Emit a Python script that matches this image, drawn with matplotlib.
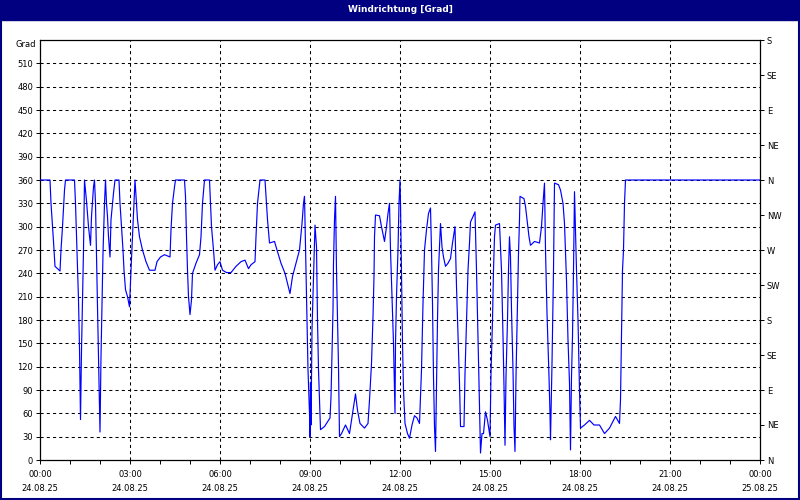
import numpy as np
import matplotlib
matplotlib.use("Agg")
import matplotlib.pyplot as plt
from matplotlib.patches import Rectangle
from matplotlib.ticker import MultipleLocator, FixedLocator
import matplotlib.transforms as mtrans

# minutes after 24.08.25 00:00 and wind direction in degrees
minutes = [0, 20, 22, 27, 30, 40, 42, 45, 49, 51, 69, 71, 74, 77, 79, 81, 83, 85, 87, 89,
           93, 97, 101, 103, 107, 109, 111, 113, 115, 117, 119, 120, 122, 124, 126, 129, 131,
           133, 135, 137, 140, 142, 147, 150, 158, 160, 163, 166, 168, 171, 175, 179, 182, 185,
           187, 189, 190, 193, 195, 199, 205, 212, 219, 230, 234, 241, 249, 260, 262, 265, 269,
           271, 289, 291, 293, 295, 297, 300, 303, 305, 312, 319, 322, 325, 329, 339, 341, 343,
           347, 350, 355, 360, 365, 373, 382, 392, 402, 410, 417, 422, 430, 432, 435, 440, 450,
           453, 455, 459, 469, 474, 482, 490, 495, 500, 505, 512, 519, 524, 527, 529, 532, 534,
           536, 539, 540, 541, 542, 544, 547, 550, 553, 555, 557, 561, 569, 580, 582, 584, 586,
           587, 589, 591, 593, 595, 597, 599, 603, 611, 619, 626, 631, 635, 640, 649, 656, 659,
           663, 666, 668, 669, 671, 679, 683, 689, 693, 696, 699, 701, 704, 707, 709, 710, 711,
           713, 716, 718, 720, 721, 723, 725, 727, 730, 735, 739, 744, 749, 754, 759, 763, 766,
           769, 773, 777, 781, 783, 785, 787, 789, 791, 793, 795, 797, 799, 801, 804, 807, 811,
           816, 821, 825, 830, 833, 836, 839, 841, 848, 850, 853, 856, 859, 861, 866, 870, 873,
           876, 878, 880, 881, 884, 887, 891, 895, 899, 900, 902, 905, 907, 909, 911, 919, 923,
           926, 928, 930, 932, 935, 937, 939, 941, 943, 946, 948, 950, 952, 955, 957, 959, 960,
           968, 971, 975, 978, 981, 989, 999, 1003, 1006, 1009, 1011, 1014, 1018, 1020, 1021,
           1024, 1027, 1029, 1037, 1041, 1046, 1049, 1053, 1056, 1059, 1061, 1063, 1065, 1067,
           1069, 1073, 1076, 1079, 1081, 1089, 1099, 1108, 1119, 1129, 1139, 1151, 1159, 1161,
           1163, 1165, 1167, 1169, 1171, 1440]
degrees = [360, 360, 330, 281, 249, 243, 270, 300, 347, 360, 360, 330, 270, 206, 144, 52, 141,
           206, 270, 360, 333, 300, 276, 313, 351, 360, 330, 261, 197, 135, 69, 36, 133, 197,
           266, 330, 360, 330, 313, 287, 261, 309, 343, 360, 360, 330, 300, 270, 244, 219, 210,
           197, 244, 287, 317, 347, 360, 330, 309, 287, 270, 255, 244, 244, 255, 261, 264, 261,
           296, 330, 351, 360, 360, 339, 287, 244, 210, 187, 206, 240, 253, 264, 287, 330, 360,
           360, 330, 300, 270, 244, 251, 255, 244, 241, 241, 249, 255, 257, 246, 251, 255, 287,
           330, 360, 360, 330, 309, 279, 281, 270, 253, 240, 227, 214, 236, 253, 270, 304, 330,
           339, 244, 180, 116, 60, 30, 100, 45, 167, 236, 302, 274, 180, 116, 39, 43, 54, 81,
           137, 193, 253, 309, 339, 244, 184, 120, 30, 34, 45, 34, 64, 85, 64, 47, 41, 47, 77,
           124, 184, 236, 287, 315, 314, 300, 281, 300, 317, 330, 270, 210, 150, 90, 60, 150,
           210, 270, 330, 360, 330, 244, 150, 90, 47, 34, 28, 45, 57, 54, 47, 116, 201, 270, 296,
           317, 324, 270, 201, 107, 43, 11, 99, 180, 244, 274, 304, 274, 261, 249, 253, 259, 279,
           300, 223, 159, 99, 43, 43, 111, 180, 244, 279, 306, 313, 319, 244, 159, 99, 39, 9,
           34, 34, 62, 51, 34, 30, 111, 180, 244, 287, 302, 304, 244, 159, 94, 19, 107, 180, 244,
           287, 261, 193, 116, 43, 11, 107, 201, 266, 309, 339, 336, 326, 304, 287, 276, 281,
           279, 300, 330, 356, 270, 189, 107, 60, 26, 124, 244, 356, 354, 347, 330, 304, 231,
           154, 99, 13, 107, 159, 244, 345, 244, 180, 90, 41, 45, 51, 45, 45, 34, 41, 56, 47, 77,
           159, 244, 270, 330, 360, 360]

time_labels = ["00:00\n24.08.25", "03:00\n24.08.25", "06:00\n24.08.25", "09:00\n24.08.25",
               "12:00\n24.08.25", "15:00\n24.08.25", "18:00\n24.08.25", "21:00\n24.08.25",
               "00:00\n25.08.25"]
grad_ticks = list(range(0, 540, 30))
compass = ["N", "NE", "E", "SE", "S", "SW", "W", "NW", "N", "NE", "E", "SE", "S"]

NAVY = "#000080"
plt.rcParams["font.family"] = "DejaVu Sans"
fig = plt.figure(figsize=(8, 5), dpi=100)
ax = fig.add_axes([0.05, 0.08, 0.90, 0.84])

hours = np.array(minutes) / 60.0
ax.plot(hours, degrees, color="#0000ff", lw=0.85, zorder=3)

ax.set_xlim(0, 24); ax.set_ylim(0, 540)
ax.set_xticks(np.arange(0, 25, 3)); ax.set_xticklabels(time_labels, fontsize=6, linespacing=1.75)
ax.xaxis.set_minor_locator(MultipleLocator(1))
ax.set_yticks(grad_ticks); ax.set_yticklabels([str(v) for v in grad_ticks], fontsize=6)
ax.tick_params(axis="both", which="both", direction="out", length=3, width=0.7, pad=2)
ax.tick_params(axis="x", pad=4)
for s in ax.spines.values(): s.set_linewidth(0.9)

for v in range(30, 540, 30):
    ax.axhline(v, color="black", lw=0.75, ls=(0, (3, 3)), zorder=1)
for h in range(3, 24, 3):
    ax.axvline(h, color="black", lw=0.75, ls=(0, (3, 3)), zorder=1)

off = mtrans.offset_copy(ax.get_yaxis_transform(), fig=fig, x=-4, y=-4, units="dots")
ax.text(0, 540, "Grad", transform=off, ha="right", va="center", fontsize=6)

ax2 = ax.twinx()
ax2.set_ylim(0, 540)
ax2.yaxis.set_major_locator(FixedLocator(list(range(0, 541, 45))))
ax2.set_yticklabels(compass, fontsize=6)
ax2.tick_params(axis="y", direction="out", length=3, width=0.7, pad=2)
for s in ax2.spines.values(): s.set_visible(False)

# window frame + title bar
fig.patches.append(Rectangle((0, 1 - 20 / 500), 1, 20 / 500, transform=fig.transFigure,
                             color=NAVY, zorder=0))
fig.patches.append(Rectangle((0.001, 0.002), 0.998, 0.996, transform=fig.transFigure,
                             fill=False, edgecolor=NAVY, lw=1.5, zorder=5))
fig.text(0.5, 1 - 10 / 500, "Windrichtung [Grad]", color="white", fontsize=6.5,
         weight="bold", ha="center", va="center")

fig.savefig("out.png", dpi=100)
